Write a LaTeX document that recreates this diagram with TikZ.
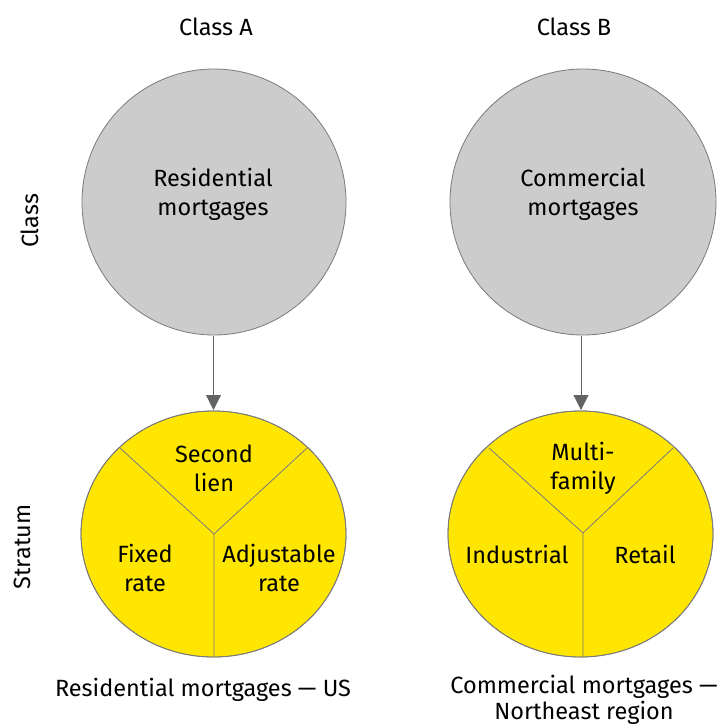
\documentclass[tikz,border=0pt]{standalone}
\usepackage{fontspec}
\setmainfont{Fira Sans}
\usetikzlibrary{arrows.meta}
\definecolor{eygray}{HTML}{CCCCCC}
\definecolor{eyyellow}{HTML}{FFE600}
\definecolor{edge}{HTML}{7A7A7A}
\definecolor{arr}{HTML}{636363}
\begin{document}
\begin{tikzpicture}[x=1pt,y=-1pt,
  lbl/.style={font=\fontsize{23.5}{29}\selectfont, align=center, text=black, inner sep=0pt},
  classc/.style={draw=edge, line width=0.8pt, fill=eygray},
  stratc/.style={draw=edge, line width=0.8pt, fill=eyyellow},
  divider/.style={draw=edge, line width=0.8pt},
  conn/.style={draw=arr, line width=0.9pt, -{Triangle[length=15pt,width=15pt]}}]
\useasboundingbox (0,0) rectangle (721,728);
% class circles
\draw[classc] (214,202) circle[x radius=132,y radius=133];
\node[circle, minimum size=266pt, inner sep=0pt] (ca) at (214,202) {};
\draw[classc] (583,202) circle[x radius=133,y radius=133];
\node[circle, minimum size=266pt, inner sep=0pt] (cb) at (583,202) {};
% strata ellipses
\draw[stratc] (213.5,534) ellipse[x radius=132.5,y radius=123];
\coordinate (sa) at (213.5,410);
\coordinate (ja) at (214,534);
\coordinate (ala) at (120,448);
\coordinate (ara) at (307,448);
\coordinate (aba) at (214,657);
\draw[divider] (ala) -- (ja) -- (ara) (ja) -- (aba);
\draw[stratc,fill=none] (213.5,534) ellipse[x radius=132.5,y radius=123];

\draw[stratc] (580.5,534) ellipse[x radius=132.5,y radius=123];
\coordinate (sb) at (581,410);
\coordinate (jb) at (583,533);
\coordinate (alb) at (489,448);
\coordinate (arb) at (673,448);
\coordinate (abb) at (583,657);
\draw[divider] (alb) -- (jb) -- (arb) (jb) -- (abb);
\draw[stratc,fill=none] (580.5,534) ellipse[x radius=132.5,y radius=123];
% connectors
\coordinate (ta) at (213.5,336);
\coordinate (tb) at (581,336);
\draw[conn] (ta) -- (sa);
\draw[conn] (tb) -- (sb);
% texts
\node[lbl] (hA) at (216,27) {Class A};
\node[lbl] (hB) at (574,27) {Class B};
\node[lbl, rotate=90] (rc) at (30,221) {Class};
\node[lbl, rotate=90] (rs) at (22,547) {Stratum};
\node[lbl] (tA) at (213,194) {Residential\\mortgages};
\node[lbl] (tB) at (583,194) {Commercial\\mortgages};
\node[lbl] (s1) at (214,468) {Second\\lien};
\node[lbl] (s2) at (145,568) {Fixed\\rate};
\node[lbl] (s3) at (279,568) {Adjustable\\rate};
\node[lbl] (m1) at (583,468) {Multi-\\family};
\node[lbl] (m2) at (517,554) {Industrial};
\node[lbl] (m3) at (645,554) {Retail};
\node[lbl] (bA) at (203,690) {Residential mortgages — US};
\node[lbl] (bB) at (584,700) {Commercial mortgages —\\[-3pt]Northeast region};
\end{tikzpicture}
\end{document}
